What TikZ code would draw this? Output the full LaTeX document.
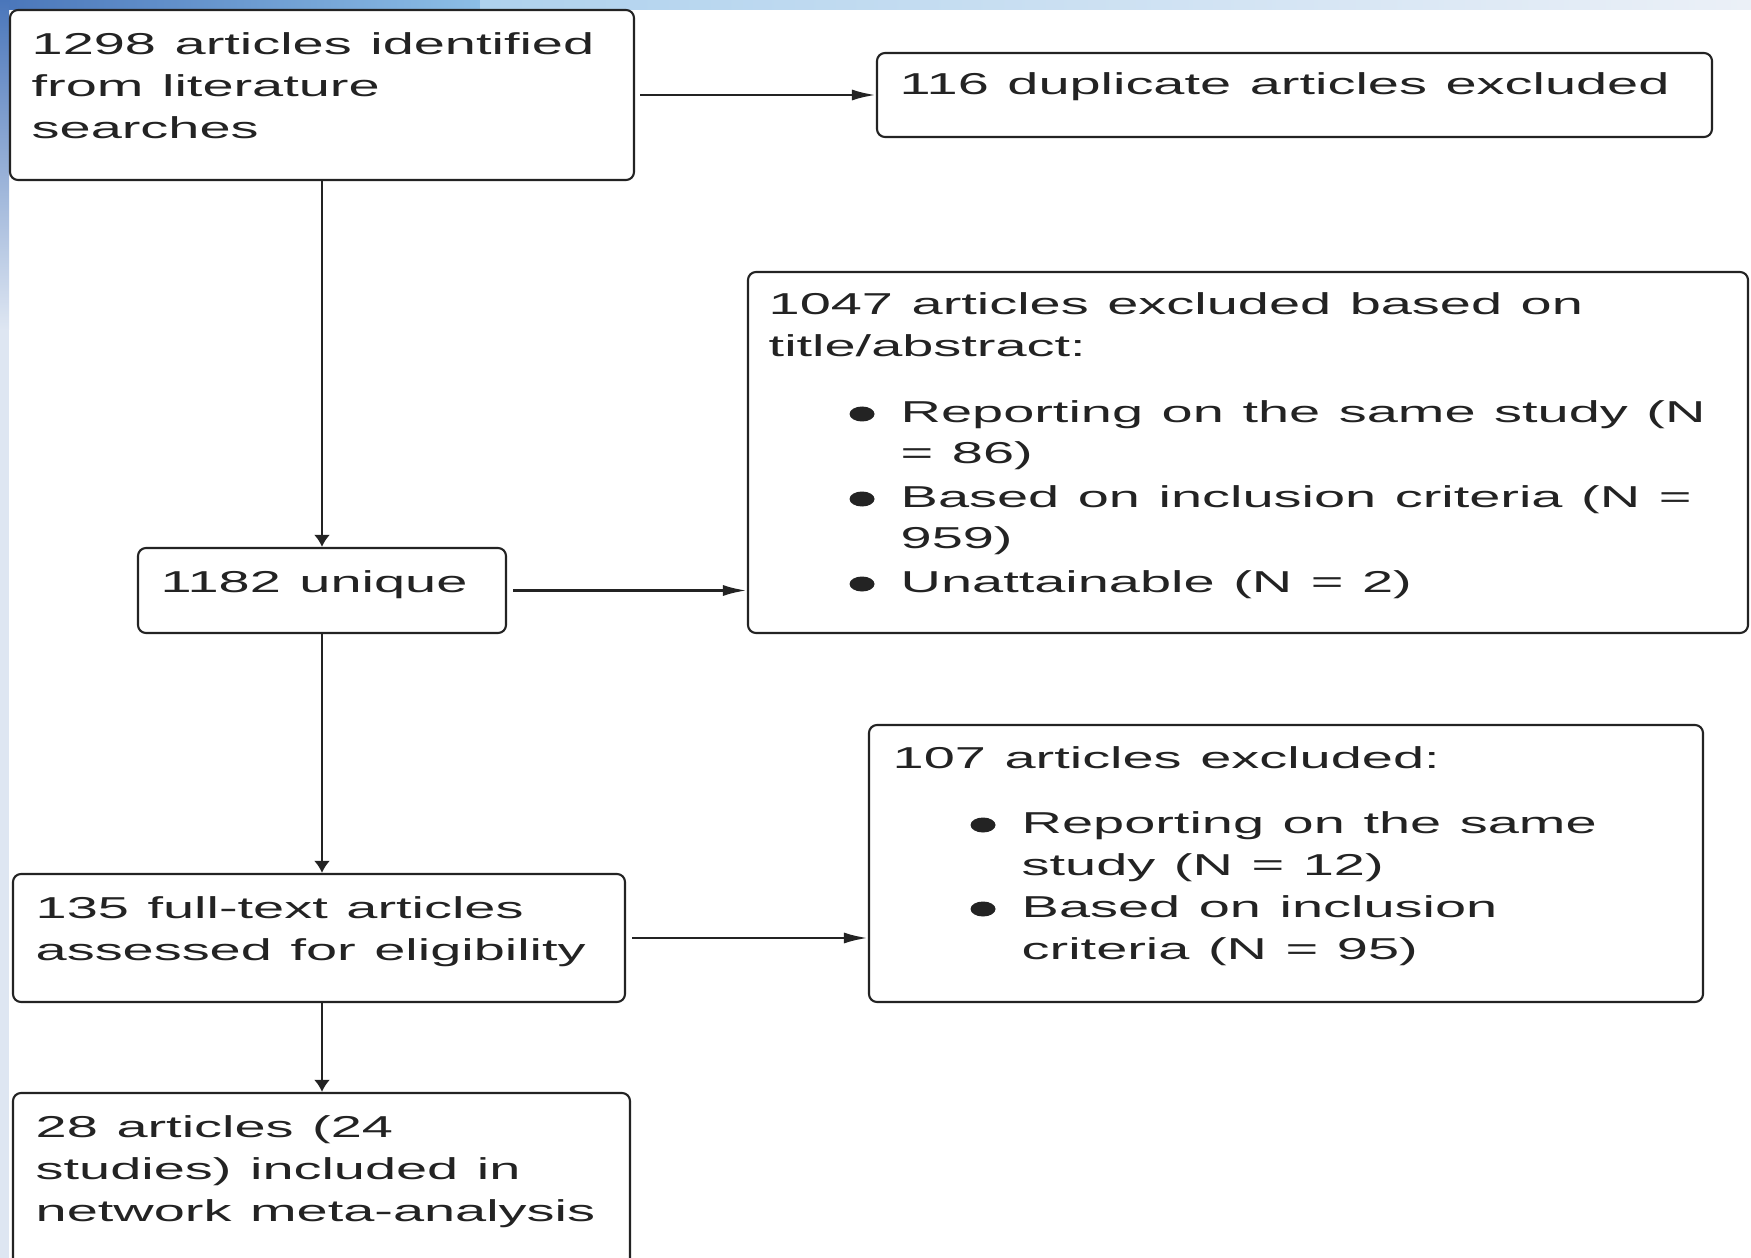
\documentclass[tikz,border=0pt]{standalone}
\usepackage{fontspec}
\usepackage{tikz}
\usetikzlibrary{arrows.meta,positioning,calc,fit}
\newfontfamily\flowfont{Liberation Sans}[FakeStretch=1.85]
\newcommand{\flowsize}{\flowfont\fontsize{8.6}{11.95}\selectfont}
\definecolor{slideblue}{RGB}{74,118,186}
\definecolor{skyblue}{RGB}{140,190,230}
\definecolor{paleblue}{RGB}{222,230,242}
\definecolor{inkgray}{RGB}{35,35,35}

\tikzset{
  box/.style={draw=inkgray, line width=0.6pt, rounded corners=0.8mm, fill=white, inner sep=0pt},
  txt/.style={anchor=base west, inner sep=0pt, text width=100mm, align=left,
    font=\flowsize, text=inkgray,
    execute at begin node={\spaceskip=5.3pt plus 1pt minus 1pt\relax}},
  harr/.style={draw=inkgray, line width=0.8pt, -{Latex[length=2.4mm,width=1.1mm]}},
  varr/.style={draw=inkgray, line width=0.8pt, -{Latex[length=1.2mm,width=1.6mm]}}
}

\begin{document}
\begin{tikzpicture}[x=0.1mm, y=-0.1mm]
    \useasboundingbox (0,0) rectangle (1751,1258);
    \clip (0,0) rectangle (1751,1258);

    % Slide background
    \fill[white] (0,0) rectangle (1751,1258);
    \shade[left color=slideblue, right color=skyblue] (0,0) rectangle (480,10);
    \shade[left color=skyblue!70!white, right color=paleblue!60!white] (480,0) rectangle (1751,10);
    \shade[top color=slideblue, bottom color=paleblue] (0,0) rectangle (9,330);
    \fill[paleblue] (0,330) rectangle (9,1258);

    % Boxes
    \node[box, fit={(10,10) (634,180)}] (ident) {};
    \node[box, fit={(877,53) (1712,137)}] (dupl) {};
    \node[box, fit={(748,272) (1748,633)}] (screen) {};
    \node[box, fit={(138,548) (506,633)}] (uniq) {};
    \node[box, fit={(869,725) (1703,1002)}] (fullx) {};
    \node[box, fit={(13,874) (625,1002)}] (full) {};
    \node[box, fit={(13,1093) (630,1290)}] (incl) {};

    % Box texts
    \node[txt] (identtxt) at (31,55) {1298 articles identified\\from literature\\searches};
    \node[txt] (dupltxt) at (899,95) {116 duplicate articles excluded};
    \node[txt] (screentxt) at (768,315) {1047 articles excluded based on\\title/abstract:};
    \node[txt] (uniqtxt) at (160,592) {1182 unique};
    \node[txt] (fullxtxt) at (892,768) {107 articles excluded:};
    \node[txt] (fulltxt) at (35,918) {135 full-text articles\\assessed for eligibility};
    \node[txt] (incltxt) at (35,1137) {28 articles (24\\studies) included in\\network meta-analysis};

    % Bullet items
    \node[txt] (sameA) at (900,422) {Reporting on the same study (N\\= 86)};
    \node[txt] (critA) at (900,507) {Based on inclusion criteria (N =\\959)};
    \node[txt] (unatt) at (900,592) {Unattainable (N = 2)};
    \node[txt] (sameB) at (1021,833) {Reporting on the same\\study (N = 12)};
    \node[txt] (critB) at (1021,917) {Based on inclusion\\criteria (N = 95)};
    \foreach \bname in {sameA, critA, unatt, sameB, critB}
        \fill[inkgray] ($(\bname.base west)+(-38,-8)$) ellipse [x radius=1.25mm, y radius=0.75mm];

    % Connectors
    \draw[varr] (ident.south) -- (ident.south |- uniq.north);
    \draw[varr] (uniq.south) -- (uniq.south |- full.north);
    \draw[varr] (full.south -| ident.south) -- (incl.north -| ident.south);
    \draw[harr, shorten <=0.5mm] (ident.east) -- (dupl.west);
    \draw[harr, shorten <=0.6mm] (uniq.east) -- (uniq.east -| screen.west);
    \draw[harr, shorten <=0.6mm] (full.east) -- (full.east -| fullx.west);

\end{tikzpicture}
\end{document}
